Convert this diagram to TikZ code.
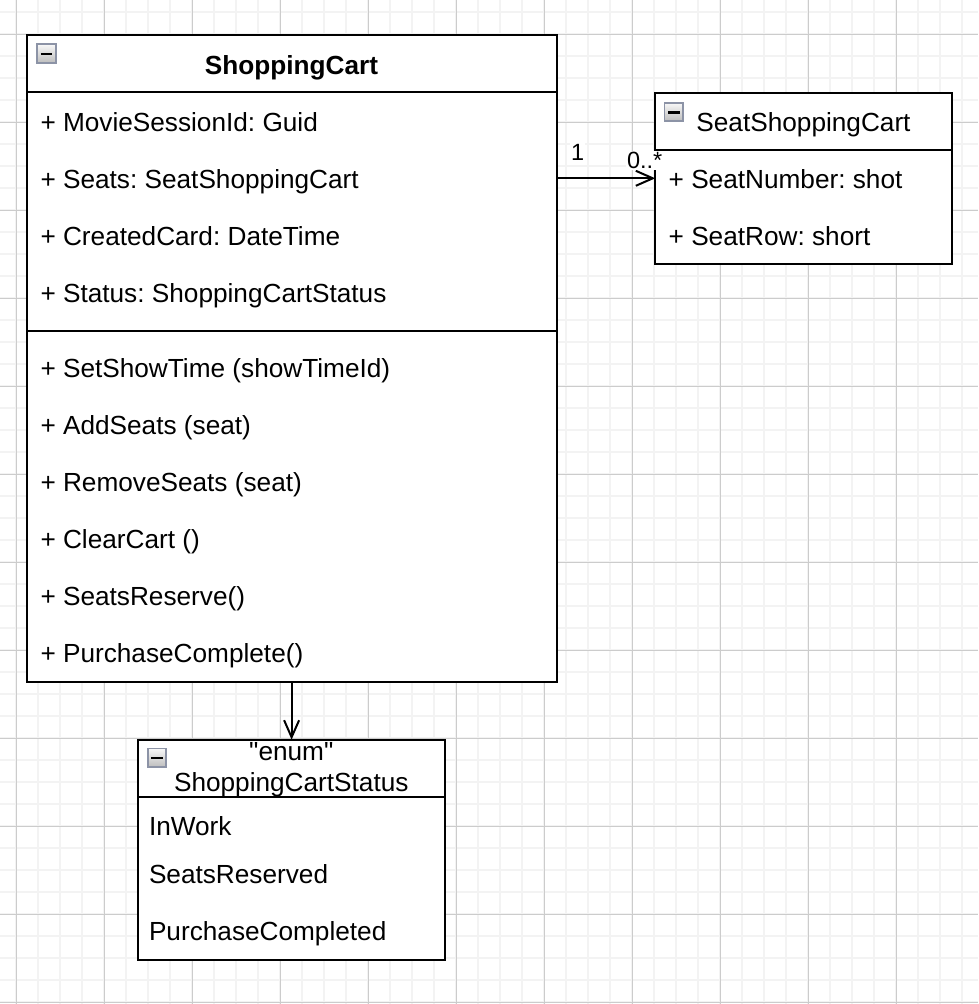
\documentclass[tikz,border=0pt]{standalone}
\usepackage{fontspec}
\setmainfont{Liberation Sans}[Ligatures=TeXOff]
\frenchspacing
\usetikzlibrary{arrows.meta,calc}
\definecolor{gridminor}{HTML}{F3F3F3}
\definecolor{gridmajor}{HTML}{CCCCCC}
\definecolor{iconborder}{HTML}{8C93A6}
\definecolor{icontop}{HTML}{F8F8F8}
\definecolor{iconbottom}{HTML}{BDBDBD}
\tikzset{
  classbox/.style={draw=black, line width=2pt, fill=white, rectangle, inner sep=0pt, outer sep=0pt, anchor=north west},
  txt/.style={inner sep=0pt, outer sep=0pt, font=\fontsize{26.2}{31.7}\selectfont, text=black},
  boldtxt/.style={txt, font=\fontsize{26.2}{31.7}\selectfont\bfseries},
  lbl/.style={inner sep=1pt, outer sep=0pt, fill=white, font=\fontsize{23.5}{28}\selectfont},
  divider/.style={line width=2pt, draw=black},
  conn/.style={line width=2pt, draw=black, -{Straight Barb[length=17pt,width=15pt,line width=2pt]}},
  gridminorline/.style={draw=gridminor, line width=2pt},
  gridmajorline/.style={draw=gridmajor, line width=1pt},
  collapseicon/.style={rectangle, draw=iconborder, line width=1.7pt, top color=icontop, bottom color=iconbottom,
    minimum width=18.5pt, minimum height=18.5pt, inner sep=0pt, outer sep=0pt,
    path picture={\draw[black,line width=2.2pt] ($(path picture bounding box.west)+(3.5,0.5)$) -- ($(path picture bounding box.east)+(-3.5,0.5)$);}}
}
\begin{document}
\begin{tikzpicture}[x=1pt,y=-1pt]
\useasboundingbox (0,0) rectangle (978,1004);
\fill[white] (0,0) rectangle (978,1004);
% grid
\foreach \i in {0,...,44} {\draw[gridminorline] ({16.3+22*\i},0) -- ({16.3+22*\i},1004);}
\foreach \i in {0,...,45} {\draw[gridminorline] (0,{12.3+22*\i}) -- (978,{12.3+22*\i});}
\foreach \i in {0,...,10} {\draw[gridmajorline] ({16.3+88*\i},0) -- ({16.3+88*\i},1004);}
\foreach \i in {0,...,11} {\draw[gridmajorline] (0,{34.3+88*\i}) -- (978,{34.3+88*\i});}

% ShoppingCart class
\node[classbox, minimum width=529.8pt, minimum height=647pt] (sc) at (26.7,35.3) {};
\draw[divider] ($(sc.north west)+(0,56.7)$) -- ($(sc.north east)+(0,56.7)$);
\draw[divider] ($(sc.north west)+(0,295.4)$) -- ($(sc.north east)+(0,295.4)$);
\node[collapseicon] (scicon) at (46.5,53.5) {};
\node[boldtxt, anchor=base] (sctitle) at (291.5,74) {ShoppingCart};
\node[txt, anchor=base west] (a1) at (40.5,131.7) {+ MovieSessionId: Guid};
\node[txt, anchor=base west] (a2) at (40.5,188.7) {+ Seats: SeatShoppingCart};
\node[txt, anchor=base west] (a3) at (40.5,245.7) {+ CreatedCard: DateTime};
\node[txt, anchor=base west] (a4) at (40.5,302.7) {+ Status: ShoppingCartStatus};
\node[txt, anchor=base west] (m1) at (40.5,377.3) {+ SetShowTime (showTimeId)};
\node[txt, anchor=base west] (m2) at (40.5,434.3) {+ AddSeats (seat)};
\node[txt, anchor=base west] (m3) at (40.5,491.3) {+ RemoveSeats (seat)};
\node[txt, anchor=base west] (m4) at (40.5,548.3) {+ ClearCart ()};
\node[txt, anchor=base west] (m5) at (40.5,605.3) {+ SeatsReserve()};
\node[txt, anchor=base west] (m6) at (40.5,662.8) {+ PurchaseComplete()};

% SeatShoppingCart class
\node[classbox, minimum width=297pt, minimum height=170.4pt] (seat) at (655.3,93.3) {};
\draw[divider] ($(seat.north west)+(0,57)$) -- ($(seat.north east)+(0,57)$);
\node[collapseicon] (seaticon) at (673.8,112) {};
\node[txt, anchor=base] (seattitle) at (803.5,131.7) {SeatShoppingCart};
\node[txt, anchor=base west] (s1) at (668.7,188.3) {+ SeatNumber: shot};
\node[txt, anchor=base west] (s2) at (668.7,245.3) {+ SeatRow: short};

% ShoppingCartStatus enum
\node[classbox, minimum width=307.3pt, minimum height=220pt] (en) at (137.7,739.7) {};
\draw[divider] ($(en.north west)+(0,57)$) -- ($(en.north east)+(0,57)$);
\node[collapseicon] (enicon) at (157,757.8) {};
\node[txt, anchor=base] (entag) at (291.3,760) {"enum"};
\node[txt, anchor=base] (entitle) at (291.3,791.7) {ShoppingCartStatus};
\node[txt, anchor=base west] (e1) at (149,835.7) {InWork};
\node[txt, anchor=base west] (e2) at (149,883.3) {SeatsReserved};
\node[txt, anchor=base west] (e3) at (149,940) {PurchaseCompleted};

% connectors
\coordinate (c1s) at ($(sc.north east)+(0,143)$);
\coordinate (c1e) at ($(seat.north west)+(0,85)$);
\draw[conn] (c1s) -- (c1e);
\node[lbl, anchor=base] (l1) at (577.6,160) {1};
\node[lbl, anchor=base west] (l2) at (626,168.3) {0..*};
\draw[conn] (sc.south) -- (sc.south |- en.north);
\end{tikzpicture}
\end{document}
